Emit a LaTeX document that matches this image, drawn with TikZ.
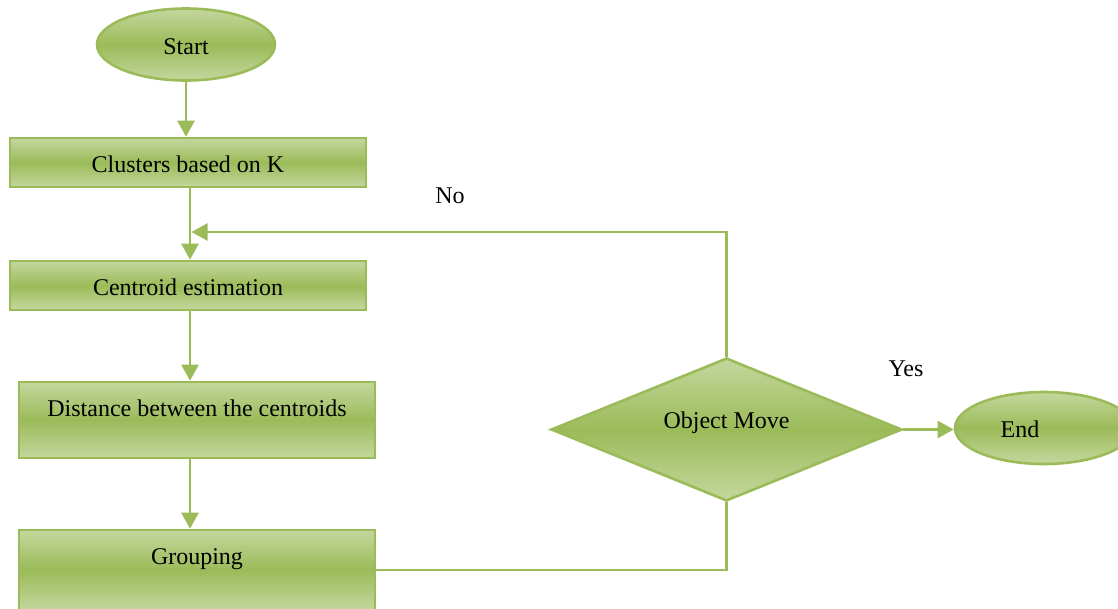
\documentclass[tikz,border=0pt]{standalone}
\usepackage{fontspec}
\setmainfont{Liberation Serif}
\usetikzlibrary{shapes.geometric,arrows.meta}

\definecolor{olive}{HTML}{9BBB59}
\definecolor{olivelight}{HTML}{C4D79E}

\tikzset{
  txt/.style={font=\fontsize{24}{28}\selectfont, text height=19pt, text depth=0pt, inner sep=0pt},
  shade/.style={top color=olivelight, bottom color=olivelight, middle color=olive},
  stepbox/.style={txt, shade, draw=olive, line width=2.6pt, rectangle, minimum width=356pt},
  term/.style={txt, shade, draw=olive, line width=2.6pt, ellipse, minimum width=178pt, minimum height=72pt},
  decide/.style={txt, shade, draw=olive, line width=2.6pt, diamond, aspect=2.45,
                 minimum width=351pt, minimum height=143pt, text height=16pt, text depth=19pt},
  conn/.style={draw=olive, line width=2.4pt},
  arr/.style={conn, -{Triangle[length=16pt,width=17pt]}},
}

\begin{document}
\begin{tikzpicture}[x=1pt, y=-1pt]
  \useasboundingbox (0,0) rectangle (1118,608);

  % terminals
  \node[term] (start) at (186,44.5) {Start};
  \node[term] (end) at (1044,428) {End\hspace*{48pt}};

  % process steps
  \node[stepbox, minimum height=49pt] (clu) at (188,162.5) {Clusters based on K};
  \node[stepbox, minimum height=49pt] (cen) at (188,285.5) {Centroid estimation};
  \node[stepbox, text height=34pt, text depth=42pt] (dst) at (197,420) {Distance between the centroids};
  \node[stepbox, text height=34pt, text depth=46pt] (grp) at (197,570) {Grouping};

  % decision
  \node[decide] (dec) at (726.5,429.5) {Object Move};

  % branch labels
  \node[txt] (no) at (450,193.5) {No};
  \node[txt] (yes) at (906,366.5) {Yes};

  % connectors
  \coordinate (spine) at (190,0);
  \coordinate (loop) at (191.5,232);
  \draw[arr] (start.south) -- (start.south |- clu.north);
  \draw[arr] (clu.south -| spine) -- (cen.north -| spine);
  \draw[arr] (cen.south -| spine) -- (dst.north -| spine);
  \draw[arr] (dst.south -| spine) -- (grp.north -| spine);
  \draw[conn] (grp.east) -| (dec.south);
  \draw[arr] (dec.north) |- (loop);
  \draw[arr] (dec.east) -- (dec.east -| end.west);
\end{tikzpicture}
\end{document}
